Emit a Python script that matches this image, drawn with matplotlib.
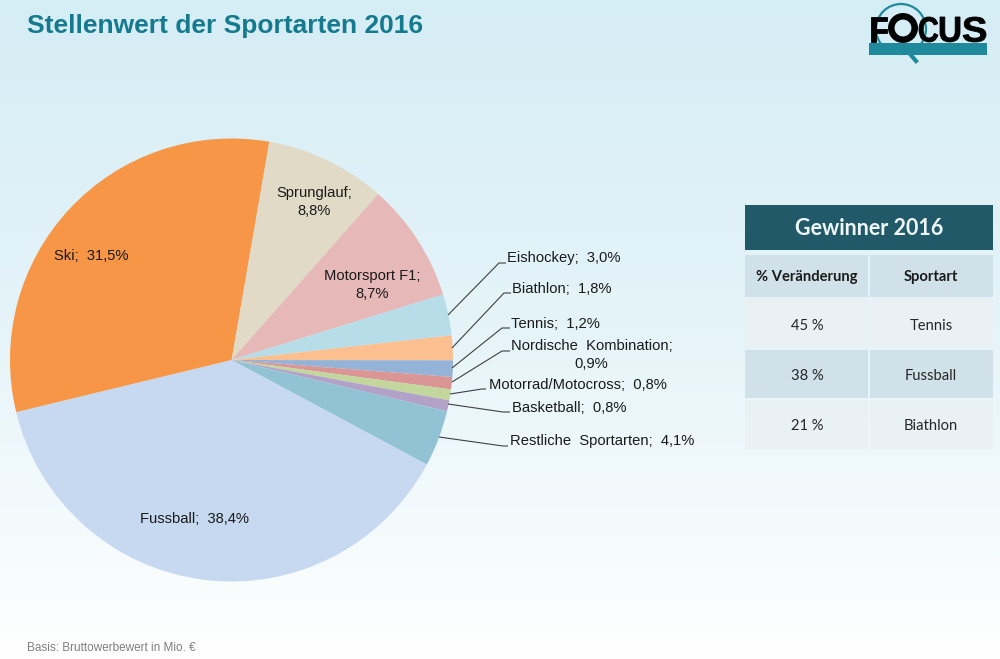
import numpy as np
import matplotlib
matplotlib.use("Agg")
import matplotlib.pyplot as plt
from matplotlib.colors import LinearSegmentedColormap
from matplotlib.patches import Rectangle, Circle, PathPatch
from matplotlib.textpath import TextPath
from matplotlib.font_manager import FontProperties
from matplotlib.transforms import Affine2D

plt.rcParams['font.family'] = ['Liberation Sans', 'DejaVu Sans']

# Daten
sportarten = ["Sprunglauf", "Motorsport F1", "Eishockey", "Biathlon", "Tennis",
              "Nordische Kombination", "Motorrad/Motocross", "Basketball",
              "Restliche Sportarten", "Fussball", "Ski"]
anteile = [8.8, 8.7, 3.0, 1.8, 1.2, 0.9, 0.8, 0.8, 4.1, 38.4, 31.5]
farben = ["#e0dac6", "#e6b9b8", "#b7dde8", "#fcc090", "#95b3d7", "#d99694",
          "#c3d69b", "#b3a2c7", "#92c3d4", "#c6d9f1", "#f79646"]

tabelle_kopf = ["% Veränderung", "Sportart"]
tabelle_prozent = ["45 %", "38 %", "21 %"]
tabelle_sport = ["Tennis", "Fussball", "Biathlon"]

fig = plt.figure(figsize=(10, 6.59), dpi=100)

# Hintergrund mit Verlauf
bg = fig.add_axes([0, 0, 1, 1], zorder=0)
verlauf = LinearSegmentedColormap.from_list("bg", ["#d5edf5", "#e5f4f9", "#ffffff"])
bg.imshow(np.linspace(0, 1, 256).reshape(-1, 1), cmap=verlauf, aspect="auto",
          extent=[0, 1000, 659, 0])
bg.set_xlim(0, 1000)
bg.set_ylim(659, 0)
bg.axis("off")

# Kreis: Mitte und Radius in Pixeln
W, H = 1000, 659
cx, cy, r = 231.5, 360, 221.5
pie_ax = fig.add_axes([(cx - r) / W, 1 - (cy + r) / H, 2 * r / W, 2 * r / H], zorder=1)
pie_ax.pie(anteile, colors=farben, startangle=80.2, counterclock=False, radius=1,
           wedgeprops={"linewidth": 0})
pie_ax.set_xlim(-1, 1)
pie_ax.set_ylim(-1, 1)
pie_ax.axis("off")

# Overlay fuer Texte in Pixelkoordinaten
ax = fig.add_axes([0, 0, 1, 1], zorder=2)
ax.set_xlim(0, 1000)
ax.set_ylim(659, 0)
ax.axis("off")

ax.text(27, 26, "Stellenwert der Sportarten 2016", fontsize=19, fontweight="bold",
        color="#167a8f", va="center", ha="left")
ax.text(27, 648, "Basis: Bruttowerbewert in Mio. €", fontsize=8.5, color="#7f7f7f",
        va="center", ha="left")

lab = dict(fontsize=10.6, color="#1a1a1a", va="center", ha="center", linespacing=1.3)
ax.text(194, 519, "Fussball;  38,4%", **lab)
ax.text(91, 256, "Ski;  31,5%", **lab)
ax.text(314, 202, "Sprunglauf;\n8,8%", **lab)
ax.text(372, 285, "Motorsport F1;\n8,7%", **lab)
ax.text(563.5, 258, "Eishockey;  3,0%", **lab)
ax.text(562, 289, "Biathlon;  1,8%", **lab)
ax.text(555, 324, "Tennis;  1,2%", **lab)
ax.text(591.5, 355, "Nordische  Kombination;\n0,9%", **lab)
ax.text(577.5, 385, "Motorrad/Motocross;  0,8%", **lab)
ax.text(569, 408, "Basketball;  0,8%", **lab)
ax.text(602, 441, "Restliche  Sportarten;  4,1%", **lab)

# Fuehrungslinien
linien = [
    ([448, 499, 506], [315, 263, 263]),
    ([452, 504, 511], [348, 293, 293]),
    ([452, 502, 510], [368, 328, 328]),
    ([452, 502, 510], [382, 351, 351]),
    ([450, 482, 486], [394, 389, 389]),
    ([448, 503, 510], [404, 412, 412]),
    ([439, 503, 508], [437, 446, 446]),
]
for xs, ys in linien:
    ax.plot(xs, ys, color="#404040", lw=0.8, solid_capstyle="butt")

# Tabelle rechts
ax.add_patch(Rectangle((745, 205), 248, 45, fc="#215968", ec="none"))
ax.text(869, 228.5, "Gewinner 2016", fontsize=15.5, fontweight="bold", color="#eef6f8",
        family="Lato", ha="center", va="center")
zeilen = [(255, 297), (299, 348), (350, 398), (400, 449)]
hell = "#e9f1f5"
dunkel = "#d0e1ea"
for i, (y0, y1) in enumerate(zeilen):
    fc = dunkel if i % 2 == 0 else hell
    ax.add_patch(Rectangle((745, y0), 123, y1 - y0, fc=fc, ec="none"))
    ax.add_patch(Rectangle((870, y0), 123, y1 - y0, fc=fc, ec="none"))
    ym = (y0 + y1) / 2
    if i == 0:
        ax.text(807, ym + 1, tabelle_kopf[0], fontsize=10.6, fontweight="bold", color="#1a1a1a",
                family="Lato", ha="center", va="center")
        ax.text(931, ym + 1, tabelle_kopf[1], fontsize=10.6, fontweight="bold", color="#1a1a1a",
                family="Lato", ha="center", va="center")
    else:
        ax.text(807, ym + 2, tabelle_prozent[i - 1], fontsize=10.6, color="#262626",
                family="Lato", ha="center", va="center")
        ax.text(931, ym + 2, tabelle_sport[i - 1], fontsize=10.6, color="#262626",
                family="Lato", ha="center", va="center")


# Logo: Buchstaben in eine Box gezogen
def buchstabe(c, x0, x1, y0, y1):
    tp = TextPath((0, 0), c, size=10, prop=FontProperties(family="Liberation Sans", weight="bold"))
    bb = tp.get_extents()
    tr = (Affine2D().translate(-bb.x0, -bb.y0)
          .scale((x1 - x0) / bb.width, -(y1 - y0) / bb.height)
          .translate(x0, y1))
    ax.add_patch(PathPatch(tr.transform_path(tp), fc="black", ec="black", lw=0.6))


ax.add_patch(Rectangle((869, 43), 118, 12, fc="#1f8a9c", ec="none"))
ax.add_patch(Circle((901, 29), 25, fc="none", ec="#1f8a9c", lw=1.6))
ax.plot([910, 916], [54, 61], color="#1f8a9c", lw=3)
buchstabe("F", 871, 887, 17, 42)
ax.add_patch(Circle((903, 28), 11.7, fc="none", ec="black", lw=4.7))
buchstabe("C", 919, 938, 17, 42)
buchstabe("U", 940, 960, 17, 42)
buchstabe("S", 963, 986, 17, 42)

fig.savefig("out.png", dpi=100)
